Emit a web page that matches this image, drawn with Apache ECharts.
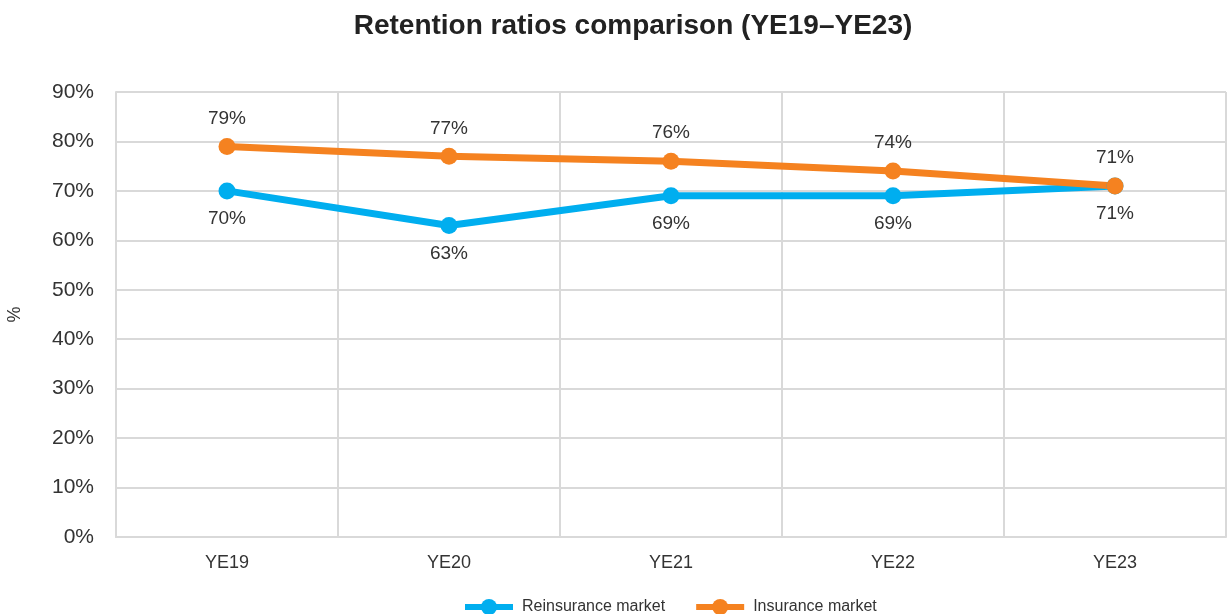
<!DOCTYPE html>
<html>
<head>
<meta charset="utf-8">
<script src="https://cdn.jsdelivr.net/npm/echarts@6/dist/echarts.min.js"></script>
<style>
  html, body { margin: 0; padding: 0; background: #fff; }
  #chart { width: 1227px; height: 614px; }
</style>
</head>
<body>
<div id="chart"></div>
<script>
// Year-end categories
var years = ['YE19', 'YE20', 'YE21', 'YE22', 'YE23'];
// Retention ratios (%)
var reinsurance = [70, 63, 69, 69, 71];
var insurance = [79, 77, 76, 74, 71];
var seriesNames = ['Reinsurance market', 'Insurance market'];

var chart = echarts.init(document.getElementById('chart'));
var font = '"Liberation Sans", Arial, Helvetica, sans-serif';
var gridColor = '#d9d9d9';

function lineSeries(name, data, color, labelPos) {
  return {
    name: name,
    type: 'line',
    data: data,
    symbol: 'circle',
    symbolSize: 17,
    lineStyle: { width: 7, color: color },
    itemStyle: { color: color },
    label: {
      show: true,
      position: labelPos,
      distance: 10,
      formatter: '{c}%',
      fontFamily: font,
      fontSize: 19,
      color: '#333'
    },
    emphasis: { disabled: true }
  };
}

chart.setOption({
  animation: false,
  textStyle: { fontFamily: font },
  title: {
    text: 'Retention ratios comparison (YE19\u2013YE23)',
    left: 628,
    textAlign: 'center',
    top: 7,
    textStyle: { fontFamily: font, fontSize: 28, fontWeight: 'bold', color: '#222' }
  },
  legend: {
    bottom: -6,
    left: 457,
    itemWidth: 48,
    itemHeight: 20,
    itemGap: 28,
    lineStyle: { width: 6 },
    textStyle: { fontFamily: font, fontSize: 16, color: '#333', padding: [0, 0, 0, 4] },
    data: seriesNames
  },
  grid: { left: 116, right: 1, top: 92, bottom: 77, containLabel: false, outerBoundsMode: 'none' },
  xAxis: {
    type: 'category',
    data: years,
    boundaryGap: true,
    axisLine: { show: true, lineStyle: { color: gridColor, width: 2 } },
    axisTick: { show: false },
    axisLabel: { fontFamily: font, fontSize: 18, color: '#333', margin: 17 },
    splitLine: { show: true, lineStyle: { color: gridColor, width: 2 } }
  },
  yAxis: {
    type: 'value',
    min: 0,
    max: 90,
    interval: 10,
    name: '%',
    nameLocation: 'middle',
    nameGap: 92,
    nameRotate: 90,
    nameTextStyle: { fontFamily: font, fontSize: 18, color: '#333' },
    axisLine: { show: true, lineStyle: { color: gridColor, width: 2 } },
    axisTick: { show: false },
    axisLabel: { formatter: '{value}%', fontFamily: font, fontSize: 21, color: '#333', margin: 22 },
    splitLine: { show: true, lineStyle: { color: gridColor, width: 2 } }
  },
  series: [
    lineSeries(seriesNames[0], reinsurance, '#00aeef', 'bottom'),
    lineSeries(seriesNames[1], insurance, '#f58220', 'top')
  ]
});
</script>
</body>
</html>
